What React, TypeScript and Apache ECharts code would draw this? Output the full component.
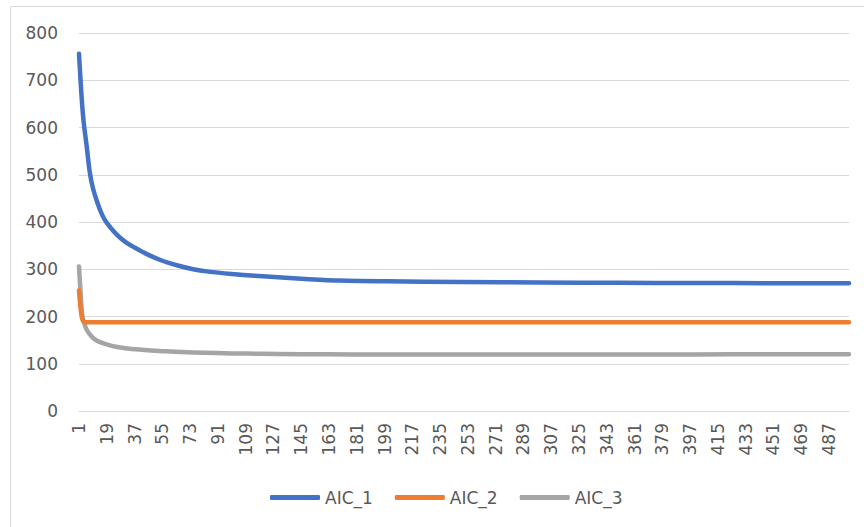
import React, { useEffect, useRef } from "react";
import * as echarts from "echarts";

// x categories: observation index 1..500
const categories: string[] = Array.from({ length: 500 }, (_, i) => String(i + 1));

const aic1Points: [number, number][] = [
  [1, 756], [2, 700], [3, 650], [4, 612], [5, 585], [6, 560], [8, 505], [10, 472],
  [13, 440], [16, 415], [19, 398], [25, 375], [31, 358], [37, 346], [45, 332],
  [55, 318], [65, 308], [75, 300], [85, 295], [100, 290], [115, 286], [130, 283],
  [150, 279], [170, 276], [200, 274.5], [250, 273], [300, 272], [350, 271.2],
  [400, 270.8], [450, 270.6], [500, 270.5],
];

const aic2Points: [number, number][] = [
  [1, 255], [2, 218], [3, 196], [4, 189], [5, 188], [100, 188], [200, 188],
  [300, 188], [400, 188], [500, 188],
];

const aic3Points: [number, number][] = [
  [1, 306], [2, 252], [3, 205], [4, 190], [5, 180], [6, 172], [8, 162], [10, 155],
  [13, 148], [16, 144], [20, 140], [25, 136], [31, 133], [40, 130], [50, 127.5],
  [60, 126], [75, 124], [90, 122.5], [110, 121.5], [130, 120.8], [160, 120],
  [200, 119.6], [250, 119.5], [300, 119.5], [350, 119.6], [400, 119.8],
  [450, 120], [500, 120.2],
];

const seriesNames = ["AIC_1", "AIC_2", "AIC_3"];
const seriesColors = ["#4472C4", "#ED7D31", "#A5A5A5"];

const yMin = 0;
const yMax = 800;
const yInterval = 100;

const FONT = "DejaVu Sans";
const TEXT = "#595959";
const GRID = "#d9d9d9";

export default function App() {
  const ref = useRef<HTMLDivElement>(null);

  useEffect(() => {
    if (!ref.current) return;
    const chart = echarts.init(ref.current, undefined, { renderer: "svg" });
    const allPoints = [aic1Points, aic2Points, aic3Points];
    chart.setOption({
      animation: false,
      backgroundColor: "#ffffff",
      textStyle: { fontFamily: FONT },
      grid: { left: 79, right: 15, top: 33, bottom: 116, containLabel: false },
      graphic: [
        {
          type: "rect",
          shape: { x: 10.5, y: 6.5, width: 900, height: 600 },
          style: { fill: "none", stroke: GRID, lineWidth: 1 },
          silent: true,
        },
      ],
      legend: {
        left: 265,
        top: 484,
        itemWidth: 50,
        itemHeight: 5,
        itemGap: 22,
        icon: "roundRect",
        textStyle: { color: TEXT, fontSize: 17, fontFamily: FONT },
        data: seriesNames,
      },
      xAxis: {
        type: "category",
        data: categories,
        boundaryGap: false,
        axisLine: { show: true, lineStyle: { color: GRID, width: 1 } },
        axisTick: { show: false },
        axisLabel: {
          interval: 17,
          rotate: 90,
          margin: 12,
          color: TEXT,
          fontSize: 17,
          fontFamily: FONT,
        },
        splitLine: { show: false },
      },
      yAxis: {
        type: "value",
        min: yMin,
        max: yMax,
        interval: yInterval,
        axisLine: { show: false },
        axisTick: { show: false },
        axisLabel: { color: TEXT, fontSize: 17, fontFamily: FONT, margin: 21 },
        splitLine: { lineStyle: { color: GRID, width: 1 } },
      },
      series: seriesNames.map((name, i) => ({
        name,
        type: "line",
        data: allPoints[i].map(([n, v]) => [n - 1, v]),
        symbol: "none",
        showSymbol: false,
        smooth: 0.3,
        lineStyle: { color: seriesColors[i], width: 4.5, cap: "round", join: "round" },
        itemStyle: { color: seriesColors[i] },
        z: 3 - i,
      })),
    });
    return () => chart.dispose();
  }, []);

  return (
    <div
      ref={ref}
      style={{ position: "fixed", left: 0, top: 0, width: 864, height: 527 }}
    />
  );
}
